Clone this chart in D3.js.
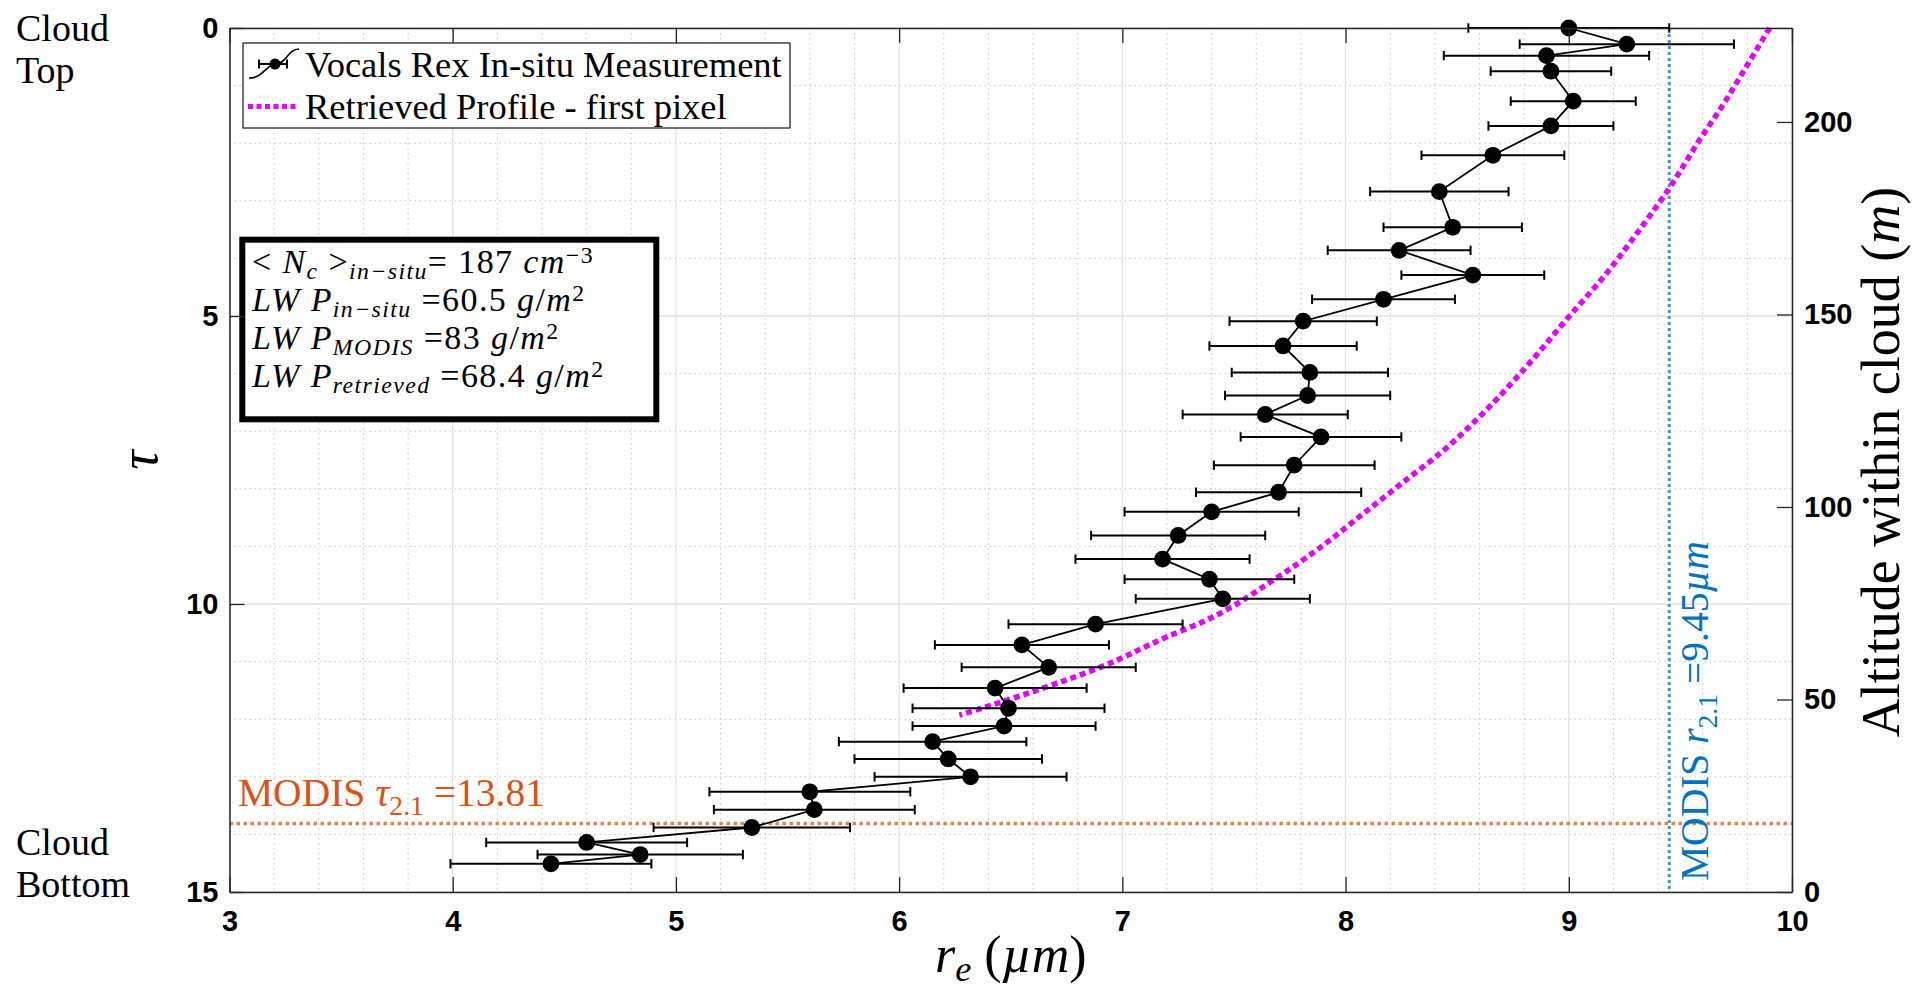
<!DOCTYPE html>
<html>
<head>
<meta charset="utf-8">
<script src="https://cdn.jsdelivr.net/npm/d3@7"></script>
<style>
  html, body { margin: 0; padding: 0; background: #fff; }
  svg { display: block; }
  text { white-space: pre; }
</style>
</head>
<body>
<svg id="chart" width="1914" height="992"></svg>
<script>
// In-situ profile: optical depth below cloud top, effective radius (µm), error half-width (µm)
const tauInSitu = [0.00, 0.28, 0.48, 0.75, 1.27, 1.70, 2.21, 2.84, 3.46, 3.86,
                   4.29, 4.71, 5.09, 5.52, 5.98, 6.38, 6.71, 7.10, 7.59, 8.06,
                   8.40, 8.81, 9.22, 9.57, 9.91, 10.35, 10.71, 11.10, 11.46, 11.81,
                   12.12, 12.39, 12.69, 13.00, 13.26, 13.57, 13.88, 14.14, 14.35, 14.51];
const reInSitu  = [9.00, 9.26, 8.90, 8.92, 9.02, 8.92, 8.66, 8.42, 8.48, 8.24,
                   8.57, 8.17, 7.81, 7.72, 7.84, 7.83, 7.64, 7.89, 7.77, 7.70,
                   7.40, 7.25, 7.18, 7.39, 7.45, 6.88, 6.55, 6.67, 6.43, 6.49,
                   6.47, 6.15, 6.22, 6.32, 5.60, 5.62, 5.34, 4.60, 4.84, 4.44];
const reErr     = [0.45, 0.48, 0.46, 0.27, 0.28, 0.28, 0.32, 0.31, 0.31, 0.32,
                   0.32, 0.32, 0.33, 0.33, 0.35, 0.37, 0.37, 0.36, 0.36, 0.37,
                   0.39, 0.39, 0.39, 0.38, 0.39, 0.39, 0.39, 0.39, 0.41, 0.43,
                   0.41, 0.42, 0.42, 0.43, 0.45, 0.45, 0.44, 0.45, 0.46, 0.45];

// Retrieved profile for the first pixel
const tauRetrieved = [0, 0.64, 1.34, 1.92, 2.84, 3.54, 4.35, 4.97, 5.88, 6.75,
                      7.33, 7.88, 8.43, 8.98, 9.55, 10.31, 10.57, 11.10, 11.52, 11.93];
const reRetrieved  = [9.90, 9.80, 9.69, 9.59, 9.44, 9.31, 9.15, 9.01, 8.81, 8.60,
                      8.44, 8.26, 8.08, 7.90, 7.69, 7.36, 7.20, 6.90, 6.60, 6.27];

// MODIS 2.1 µm retrievals
const modisTau = 13.81;
const modisRe = 9.45;

// Axis ranges and ticks
const reDomain = [3, 10];
const tauDomain = [0, 15];
const altDomain = [0, 224.4];   // cloud thickness in metres
const reTicks = [3, 4, 5, 6, 7, 8, 9, 10];
const tauTicks = [0, 5, 10, 15];
const altTicks = [0, 50, 100, 150, 200];

// ---------------------------------------------------------------------------
const svg = d3.select('#chart');
const L = 229.5, R = 1792, T = 28, B = 892;

const x = d3.scaleLinear().domain(reDomain).range([L, R]);
const y = d3.scaleLinear().domain(tauDomain).range([T, B]);
const yAlt = d3.scaleLinear().domain(altDomain).range([B, T]);

const axisColor = '#262626';
const serif = "'Liberation Serif', 'Times New Roman', serif";
const sans = "'Liberation Sans', Arial, Helvetica, sans-serif";

// Writes TeX-like text from parts: {t, i: italic, s: 'sub' | 'sup'}
function richText(sel, parts, size, subShift = 0.24, supShift = -0.38) {
  let off = 0;
  parts.forEach(p => {
    const target = p.s === 'sub' ? subShift * size : p.s === 'sup' ? supShift * size : 0;
    sel.append('tspan')
      .attr('font-style', p.i ? 'italic' : 'normal')
      .attr('font-size', p.s ? size * 0.7 : size)
      .attr('dy', target - off)
      .text(p.t);
    off = target;
  });
  return sel;
}

// ---- grid ----
const grid = svg.append('g');
const minorRe = d3.range(30, 101, 2).map(v => v / 10).filter(v => v % 1 !== 0);
const minorTau = d3.range(1, 15).filter(v => !tauTicks.includes(v));

grid.selectAll('line.mx').data(minorRe).join('line')
  .attr('x1', d => x(d)).attr('x2', d => x(d)).attr('y1', T).attr('y2', B)
  .attr('stroke', '#c4c4c4').attr('stroke-width', 1).attr('stroke-dasharray', '1.5,3.5');
grid.selectAll('line.my').data(minorTau).join('line')
  .attr('x1', L).attr('x2', R).attr('y1', d => y(d)).attr('y2', d => y(d))
  .attr('stroke', '#c4c4c4').attr('stroke-width', 1).attr('stroke-dasharray', '1.5,3.5');
grid.selectAll('line.gx').data(reTicks).join('line')
  .attr('x1', d => x(d)).attr('x2', d => x(d)).attr('y1', T).attr('y2', B)
  .attr('stroke', '#e2e2e2').attr('stroke-width', 1.3);
grid.selectAll('line.gy').data(tauTicks).join('line')
  .attr('x1', L).attr('x2', R).attr('y1', d => y(d)).attr('y2', d => y(d))
  .attr('stroke', '#e2e2e2').attr('stroke-width', 1.3);

// ---- MODIS reference lines ----
svg.append('line')
  .attr('x1', L).attr('x2', R).attr('y1', y(modisTau)).attr('y2', y(modisTau))
  .attr('stroke', '#e8804f').attr('stroke-width', 3.5).attr('stroke-dasharray', '3.5,3.5');
svg.append('line')
  .attr('x1', x(modisRe)).attr('x2', x(modisRe)).attr('y1', T).attr('y2', B)
  .attr('stroke', '#3f97d6').attr('stroke-width', 3).attr('stroke-dasharray', '3,3');

// ---- retrieved profile ----
const retrieved = tauRetrieved.map((t, i) => ({ tau: t, re: reRetrieved[i] }));
svg.append('path')
  .datum(retrieved)
  .attr('fill', 'none')
  .attr('stroke', '#e100ff')
  .attr('stroke-width', 5.5)
  .attr('stroke-dasharray', '6,4')
  .attr('d', d3.line().x(d => x(d.re)).y(d => y(d.tau)).curve(d3.curveMonotoneY));

// ---- in-situ measurements with error bars ----
const insitu = tauInSitu.map((t, i) => ({ tau: t, re: reInSitu[i], err: reErr[i] }));
const eb = svg.append('g').attr('stroke', '#000').attr('stroke-width', 2);
eb.selectAll('line.bar').data(insitu).join('line')
  .attr('x1', d => x(d.re - d.err)).attr('x2', d => x(d.re + d.err))
  .attr('y1', d => y(d.tau)).attr('y2', d => y(d.tau));
eb.selectAll('line.capl').data(insitu).join('line')
  .attr('x1', d => x(d.re - d.err)).attr('x2', d => x(d.re - d.err))
  .attr('y1', d => y(d.tau) - 4.7).attr('y2', d => y(d.tau) + 4.7);
eb.selectAll('line.capr').data(insitu).join('line')
  .attr('x1', d => x(d.re + d.err)).attr('x2', d => x(d.re + d.err))
  .attr('y1', d => y(d.tau) - 4.7).attr('y2', d => y(d.tau) + 4.7);

svg.append('path')
  .datum(insitu)
  .attr('fill', 'none').attr('stroke', '#000').attr('stroke-width', 1.8)
  .attr('d', d3.line().x(d => x(d.re)).y(d => y(d.tau)));

svg.append('g').selectAll('circle').data(insitu).join('circle')
  .attr('cx', d => x(d.re)).attr('cy', d => y(d.tau)).attr('r', 8.4)
  .attr('fill', '#000');

// ---- MODIS labels ----
richText(svg.append('text')
  .attr('x', 238).attr('y', 806)
  .attr('font-family', serif).attr('fill', '#d95319'),
  [{ t: 'MODIS ' }, { t: 'τ', i: true }, { t: '2.1', s: 'sub' }, { t: ' =13.81' }], 39.5);

richText(svg.append('text')
  .attr('transform', 'translate(1708,881) rotate(-90)')
  .attr('font-family', serif).attr('fill', '#0072bd'),
  [{ t: 'MODIS ' }, { t: 'r', i: true }, { t: '2.1', s: 'sub' }, { t: ' =9.45' }, { t: 'µm', i: true }], 39.5);

// ---- summary box ----
svg.append('rect')
  .attr('x', 242.3).attr('y', 239.7).attr('width', 414).attr('height', 179.6)
  .attr('fill', '#fff').attr('stroke', '#000').attr('stroke-width', 6);
const summary = [
  [{ t: '< ' }, { t: 'N', i: true }, { t: 'c', i: true, s: 'sub' }, { t: ' >' }, { t: 'in−situ', i: true, s: 'sub' }, { t: '= 187 ' }, { t: 'cm', i: true }, { t: '−3', s: 'sup' }],
  [{ t: 'LW P', i: true }, { t: 'in−situ', i: true, s: 'sub' }, { t: ' =60.5 ' }, { t: 'g', i: true }, { t: '/' }, { t: 'm', i: true }, { t: '2', s: 'sup' }],
  [{ t: 'LW P', i: true }, { t: 'MODIS', i: true, s: 'sub' }, { t: ' =83 ' }, { t: 'g', i: true }, { t: '/' }, { t: 'm', i: true }, { t: '2', s: 'sup' }],
  [{ t: 'LW P', i: true }, { t: 'retrieved', i: true, s: 'sub' }, { t: ' =68.4 ' }, { t: 'g', i: true }, { t: '/' }, { t: 'm', i: true }, { t: '2', s: 'sup' }]
];
const summaryBase = [273, 311, 349, 387];
summary.forEach((parts, i) => {
  richText(svg.append('text').attr('x', 252).attr('y', summaryBase[i])
    .attr('font-family', serif).attr('fill', '#000').attr('letter-spacing', 1.4),
    parts, 34, 0.17, -0.3);
});

// ---- legend ----
const lg = svg.append('g');
lg.append('rect').attr('x', 243).attr('y', 43).attr('width', 547).attr('height', 85)
  .attr('fill', '#fff').attr('stroke', axisColor).attr('stroke-width', 1.3);
lg.append('path')
  .attr('d', 'M249,78 C264,78 266,64 276,64 S288,49 299,49')
  .attr('fill', 'none').attr('stroke', '#000').attr('stroke-width', 1.6);
lg.append('line').attr('x1', 259).attr('x2', 287).attr('y1', 64).attr('y2', 64)
  .attr('stroke', '#000').attr('stroke-width', 2);
lg.append('line').attr('x1', 259).attr('x2', 259).attr('y1', 59.5).attr('y2', 68.5)
  .attr('stroke', '#000').attr('stroke-width', 2);
lg.append('line').attr('x1', 287).attr('x2', 287).attr('y1', 59.5).attr('y2', 68.5)
  .attr('stroke', '#000').attr('stroke-width', 2);
lg.append('circle').attr('cx', 275).attr('cy', 64).attr('r', 5.5).attr('fill', '#000');
lg.append('line').attr('x1', 248).attr('x2', 296).attr('y1', 106.5).attr('y2', 106.5)
  .attr('stroke', '#e100ff').attr('stroke-width', 5).attr('stroke-dasharray', '5,3.5');
lg.append('text').attr('x', 305).attr('y', 64).attr('dy', '0.35em')
  .attr('font-family', serif).attr('font-size', 36.5).text('Vocals Rex In-situ Measurement');
lg.append('text').attr('x', 305).attr('y', 106).attr('dy', '0.35em')
  .attr('font-family', serif).attr('font-size', 36.5).text('Retrieved Profile - first pixel');

// ---- axes ----
function styleAxis(g) {
  g.select('.domain').attr('stroke', axisColor).attr('stroke-width', 1.5);
  g.selectAll('.tick line').attr('stroke', axisColor).attr('stroke-width', 1.3);
  g.selectAll('.tick text').attr('font-family', sans).attr('font-weight', 'bold')
    .attr('font-size', 29).attr('fill', '#000');
}
svg.append('g').attr('transform', `translate(0,${B})`)
  .call(d3.axisBottom(x).tickValues(reTicks).tickFormat(d3.format('d'))
    .tickSizeInner(-15).tickSizeOuter(0).tickPadding(18))
  .call(styleAxis);
svg.append('g').attr('transform', `translate(0,${T})`)
  .call(d3.axisTop(x).tickValues(reTicks).tickFormat('')
    .tickSizeInner(-15).tickSizeOuter(0))
  .call(styleAxis);
svg.append('g').attr('transform', `translate(${L},0)`)
  .call(d3.axisLeft(y).tickValues(tauTicks).tickFormat(d3.format('d'))
    .tickSizeInner(-15).tickSizeOuter(0).tickPadding(11))
  .call(styleAxis);
svg.append('g').attr('transform', `translate(${R},0)`)
  .call(d3.axisRight(yAlt).tickValues(altTicks).tickFormat(d3.format('d'))
    .tickSizeInner(-15).tickSizeOuter(0).tickPadding(12))
  .call(styleAxis);

// ---- axis titles ----
richText(svg.append('text')
  .attr('x', (L + R) / 2).attr('y', 972).attr('text-anchor', 'middle')
  .attr('font-family', serif).attr('fill', '#000'),
  [{ t: 'r', i: true }, { t: 'e', i: true, s: 'sub' }, { t: ' (' }, { t: 'µm', i: true }, { t: ')' }], 52, 0.18);

svg.append('text')
  .attr('transform', `translate(157,${(T + B) / 2}) rotate(-90)`)
  .attr('text-anchor', 'middle')
  .attr('font-family', serif).attr('font-style', 'italic').attr('font-size', 54)
  .text('τ');

richText(svg.append('text')
  .attr('transform', `translate(1899,${(T + B) / 2 + 2}) rotate(-90)`)
  .attr('text-anchor', 'middle')
  .attr('font-family', serif).attr('fill', '#000'),
  [{ t: 'Altitude within cloud ' }, { t: '(' }, { t: 'm', i: true }, { t: ')' }], 54);

// ---- cloud top / bottom markers ----
const side = svg.append('g').attr('font-family', serif).attr('font-size', 38).attr('fill', '#000');
side.append('text').attr('x', 16).attr('y', 41).text('Cloud');
side.append('text').attr('x', 16).attr('y', 83).text('Top');
side.append('text').attr('x', 16).attr('y', 855).text('Cloud');
side.append('text').attr('x', 16).attr('y', 897).text('Bottom');
</script>
</body>
</html>
